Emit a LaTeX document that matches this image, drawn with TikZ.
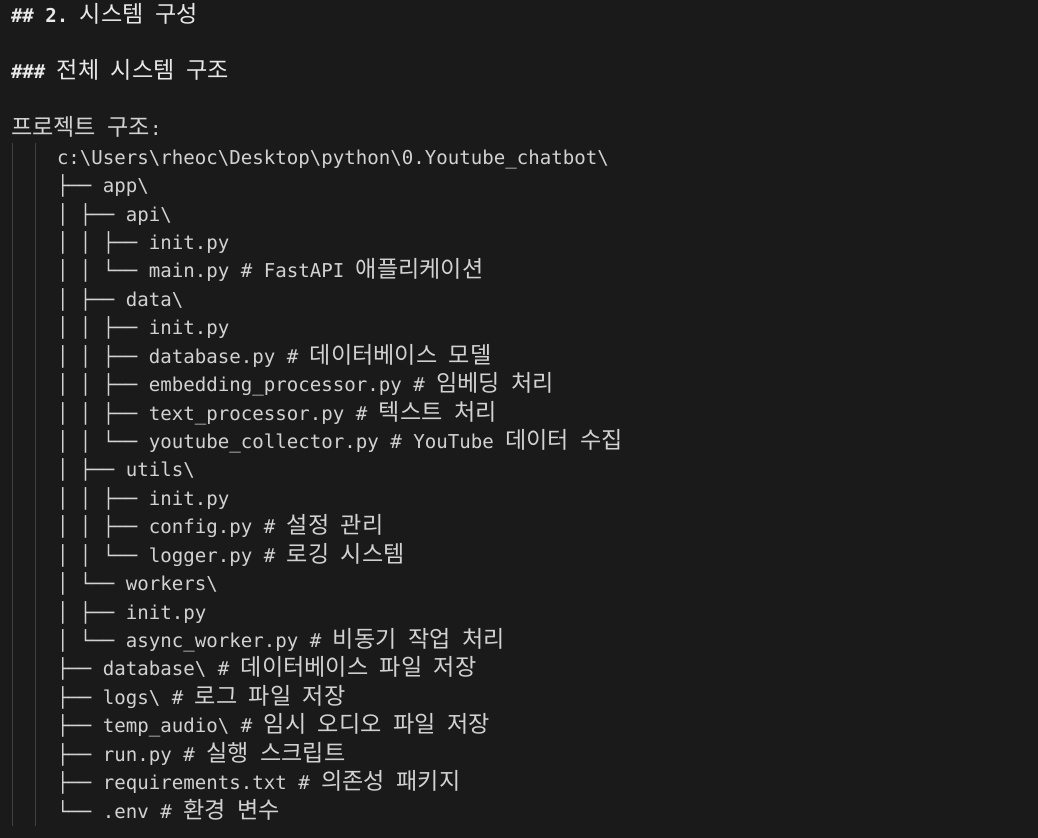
\documentclass[tikz,border=0pt]{standalone}
\usepackage{fontspec}
\setmonofont{DejaVu Sans Mono}
\newfontfamily\krfont{Noto Sans CJK KR}
\definecolor{bgc}{HTML}{1A1A1A}
\definecolor{fgc}{HTML}{D2D2D2}
\definecolor{hdc}{HTML}{E8E8E8}
\definecolor{guidec}{HTML}{404040}
\newcommand\mono{\ttfamily\fontsize{19.1bp}{23bp}\selectfont}
\newcommand\kr[1]{{\krfont\mdseries\fontsize{23.1bp}{23bp}\selectfont\spaceskip=11.5bp\relax #1}}
\newcommand\bs{\textbackslash}
\newcommand\rowy[1]{22+28.43*#1}
\begin{document}
\begin{tikzpicture}[x=1bp,y=-1bp,
  txt/.style={anchor=base west, inner sep=0pt, outer sep=0pt, text=fgc, font=\mono},
  hd/.style={txt, text=hdc, font=\mono\bfseries},
  guide/.style={draw=guidec, line width=1bp}]
\fill[bgc] (0,0) rectangle (1038,838);
\useasboundingbox (0,0) rectangle (1038,838);
\coordinate (g1a) at (12,143);
\coordinate (g1b) at (12,826);
\coordinate (g2a) at (35,143);
\coordinate (g2b) at (35,826);
\draw[guide] (g1a) -- (g1b);
\draw[guide] (g2a) -- (g2b);
% headings
\node[hd] (l0) at (11,{\rowy{0}}) {\#\# 2. \kr{시스템 구성}};
\node[hd] (l2) at (11,{\rowy{2}}) {\#\#\# \kr{전체 시스템 구조}};
\node[txt] (l4) at (11,{\rowy{4}}) {\kr{프로젝트 구조}:};
% tree
\node[txt] (l5) at (57,{\rowy{5}}) {c:\bs Users\bs rheoc\bs Desktop\bs python\bs 0.Youtube\_chatbot\bs};
\node[txt] (l6) at (57,{\rowy{6}}) {├── app\bs};
\node[txt] (l7) at (57,{\rowy{7}}) {│ ├── api\bs};
\node[txt] (l8) at (57,{\rowy{8}}) {│ │ ├── init.py};
\node[txt] (l9) at (57,{\rowy{9}}) {│ │ └── main.py \# FastAPI \kr{애플리케이션}};
\node[txt] (l10) at (57,{\rowy{10}}) {│ ├── data\bs};
\node[txt] (l11) at (57,{\rowy{11}}) {│ │ ├── init.py};
\node[txt] (l12) at (57,{\rowy{12}}) {│ │ ├── database.py \# \kr{데이터베이스 모델}};
\node[txt] (l13) at (57,{\rowy{13}}) {│ │ ├── embedding\_processor.py \# \kr{임베딩 처리}};
\node[txt] (l14) at (57,{\rowy{14}}) {│ │ ├── text\_processor.py \# \kr{텍스트 처리}};
\node[txt] (l15) at (57,{\rowy{15}}) {│ │ └── youtube\_collector.py \# YouTube \kr{데이터 수집}};
\node[txt] (l16) at (57,{\rowy{16}}) {│ ├── utils\bs};
\node[txt] (l17) at (57,{\rowy{17}}) {│ │ ├── init.py};
\node[txt] (l18) at (57,{\rowy{18}}) {│ │ ├── config.py \# \kr{설정 관리}};
\node[txt] (l19) at (57,{\rowy{19}}) {│ │ └── logger.py \# \kr{로깅 시스템}};
\node[txt] (l20) at (57,{\rowy{20}}) {│ └── workers\bs};
\node[txt] (l21) at (57,{\rowy{21}}) {│ ├── init.py};
\node[txt] (l22) at (57,{\rowy{22}}) {│ └── async\_worker.py \# \kr{비동기 작업 처리}};
\node[txt] (l23) at (57,{\rowy{23}}) {├── database\bs{} \# \kr{데이터베이스 파일 저장}};
\node[txt] (l24) at (57,{\rowy{24}}) {├── logs\bs{} \# \kr{로그 파일 저장}};
\node[txt] (l25) at (57,{\rowy{25}}) {├── temp\_audio\bs{} \# \kr{임시 오디오 파일 저장}};
\node[txt] (l26) at (57,{\rowy{26}}) {├── run.py \# \kr{실행 스크립트}};
\node[txt] (l27) at (57,{\rowy{27}}) {├── requirements.txt \# \kr{의존성 패키지}};
\node[txt] (l28) at (57,{\rowy{28}}) {└── .env \# \kr{환경 변수}};
\end{tikzpicture}
\end{document}
